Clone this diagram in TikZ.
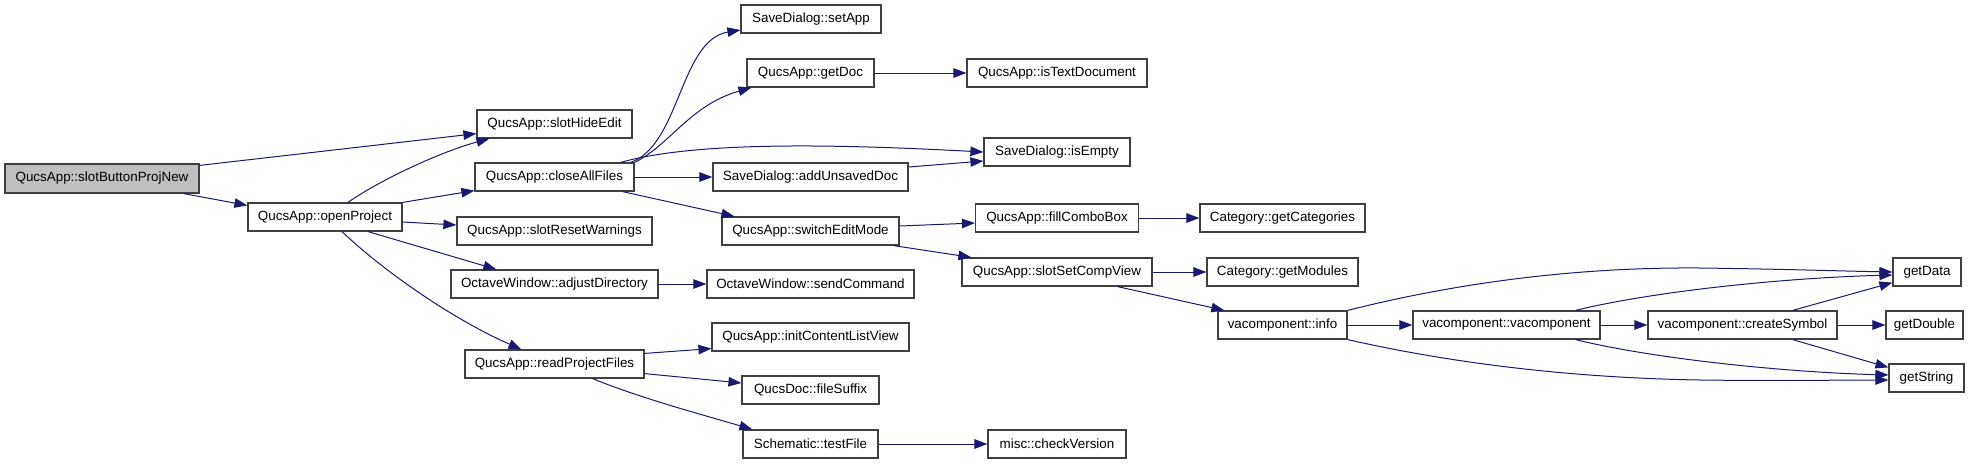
\documentclass[tikz,border=0pt]{standalone}
\usepackage{fontspec}
\setmainfont{Liberation Sans}
\usetikzlibrary{arrows.meta,calc}
\definecolor{edgeblue}{HTML}{191970}
\definecolor{boxline}{HTML}{404040}
\definecolor{rootfill}{HTML}{BFBFBF}
\tikzset{
  box/.style={draw=boxline, line width=1.2pt, rectangle, inner sep=0pt, minimum height=28pt,
    font=\fontsize{13.4}{15}\selectfont, text=black, fill=white},
  rootbox/.style={box, fill=rootfill},
  edge/.style={draw=edgeblue, line width=1pt, -{Triangle[length=13pt,width=9.5pt]}, fill=none},
}
\begin{document}
\begin{tikzpicture}[x=1pt,y=-1pt]
\useasboundingbox (0,0) rectangle (1973,464);
% nodes
\node[rootbox, minimum width=194pt, minimum height=29pt] (root) at (102,178.5) {QucsApp::slotButtonProjNew};
\node[box, minimum width=154pt] (open) at (325,217) {QucsApp::openProject};
\node[box, minimum width=155pt] (hide) at (554.5,124) {QucsApp::slotHideEdit};
\node[box, minimum width=159pt] (close) at (554.5,177) {QucsApp::closeAllFiles};
\node[box, minimum width=195pt] (reset) at (554.5,231) {QucsApp::slotResetWarnings};
\node[box, minimum width=207pt] (adjust) at (554.5,284) {OctaveWindow::adjustDirectory};
\node[box, minimum width=179pt] (readp) at (554.5,364) {QucsApp::readProjectFiles};
\node[box, minimum width=140pt] (setapp) at (811,19) {SaveDialog::setApp};
\node[box, minimum width=127pt] (getdoc) at (810.5,73) {QucsApp::getDoc};
\node[box, minimum width=195pt] (addun) at (810.5,177) {SaveDialog::addUnsavedDoc};
\node[box, minimum width=177pt] (switch) at (810.5,231) {QucsApp::switchEditMode};
\node[box, minimum width=207pt] (sendcmd) at (810.5,284) {OctaveWindow::sendCommand};
\node[box, minimum width=197pt] (initclv) at (810.5,337) {QucsApp::initContentListView};
\node[box, minimum width=137pt] (fsuffix) at (810.5,390) {QucsDoc::fileSuffix};
\node[box, minimum width=135pt] (testf) at (810.5,444) {Schematic::testFile};
\node[box, minimum width=180pt] (istext) at (1057,73) {QucsApp::isTextDocument};
\node[box, minimum width=146pt] (isempty) at (1057,152) {SaveDialog::isEmpty};
\node[box, minimum width=163pt] (fillcb) at (1057,218) {QucsApp::fillComboBox};
\node[box, minimum width=190pt] (setcomp) at (1057,272) {QucsApp::slotSetCompView};
\node[box, minimum width=138pt] (checkv) at (1057,444) {misc::checkVersion};
\node[box, minimum width=165pt] (getcat) at (1282.5,218) {Category::getCategories};
\node[box, minimum width=151pt] (getmod) at (1282.5,272) {Category::getModules};
\node[box, minimum width=129pt] (info) at (1282.5,325) {vacomponent::info};
\node[box, minimum width=187pt] (vacomp) at (1506.5,325) {vacomponent::vacomponent};
\node[box, minimum width=189pt] (createsym) at (1742.5,325) {vacomponent::createSymbol};
\node[box, minimum width=68pt] (getdata) at (1927,272) {getData};
\node[box, minimum width=77pt] (getdouble) at (1924.5,325) {getDouble};
\node[box, minimum width=75pt] (getstr) at (1926.5,378) {getString};
% edges
\draw[edge] ($(root.north east)+(0,2)$) -- ($(hide.south west)+(0,-5)$);
\draw[edge] ($(root.south east)+(-16,0)$) -- ($(open.north west)+(0,3)$);
\draw[edge] ($(open.north)+(23,0)$) .. controls (380,180) and (440,152) .. ($(hide.south west)+(13,0)$);
\draw[edge] (open.north east) -- ($(close.south west)+(0,-1)$);
\draw[edge] ($(open.east)+(0,5)$) -- ($(reset.west)+(0,-6)$);
\draw[edge] ($(open.south)+(43,0)$) -- ($(adjust.north west)+(46,0)$);
\draw[edge] ($(open.south)+(17,0)$) .. controls (380,268) and (450,318) .. ($(readp.north west)+(57,0)$);
\draw[edge] ($(close.north east)+(-4,0)$) .. controls (680,145) and (680,40) .. ($(setapp.west)+(0,11)$);
\draw[edge] (close.north east) .. controls (670,145) and (690,105) .. ($(getdoc.south west)+(5,0)$);
\draw[edge] ($(close.north east)+(-14,0)$) .. controls (700,140) and (850,145) .. (isempty.west);
\draw[edge] (close) -- (addun);
\draw[edge] ($(addun.east)+(0,-10)$) -- ($(isempty.west)+(0,9)$);
\draw[edge] ($(close.south east)+(-12,0)$) -- ($(switch.north west)+(13,0)$);
\draw[edge] (getdoc) -- (istext);
\draw[edge] ($(switch.east)+(0,-5)$) -- ($(fillcb.west)+(0,5)$);
\draw[edge] ($(switch.south east)+(-6,0)$) -- ($(setcomp.north west)+(10,0)$);
\draw[edge] (fillcb) -- (getcat);
\draw[edge] (setcomp) -- (getmod);
\draw[edge] ($(setcomp.south east)+(-35,0)$) -- ($(info.north west)+(7,0)$);
\draw[edge] (adjust) -- (sendcmd);
\draw[edge] ($(readp.north east)+(0,4)$) -- ($(initclv.south west)+(0,-3)$);
\draw[edge] ($(readp.south east)+(0,-5)$) -- ($(fsuffix.west)+(0,-7)$);
\draw[edge] ($(readp.south east)+(-52,0)$) .. controls (640,398) and (700,414) .. ($(testf.north west)+(10,0)$);
\draw[edge] (testf) -- (checkv);
\draw[edge] (info) -- (vacomp);
\draw[edge] (info.north east) .. controls (1460,282) and (1580,267) .. (1700,268) .. controls (1780,269) and (1840,271) .. (getdata.west);
\draw[edge] (info.south east) .. controls (1460,365) and (1580,378) .. (1700,380) .. controls (1780,381) and (1840,380) .. ($(getstr.west)+(0,2)$);
\draw[edge] (vacomp) -- (createsym);
\draw[edge] ($(vacomp.north east)+(-25,0)$) .. controls (1650,292) and (1780,278) .. ($(getdata.west)+(0,3)$);
\draw[edge] ($(vacomp.south east)+(-25,0)$) .. controls (1650,358) and (1780,372) .. ($(getstr.west)+(0,-3)$);
\draw[edge] ($(createsym.north east)+(-45,0)$) -- ($(getdata.south west)+(0,-4)$);
\draw[edge] (createsym) -- (getdouble);
\draw[edge] ($(createsym.south east)+(-45,0)$) -- ($(getstr.north west)+(0,4)$);
\end{tikzpicture}
\end{document}
